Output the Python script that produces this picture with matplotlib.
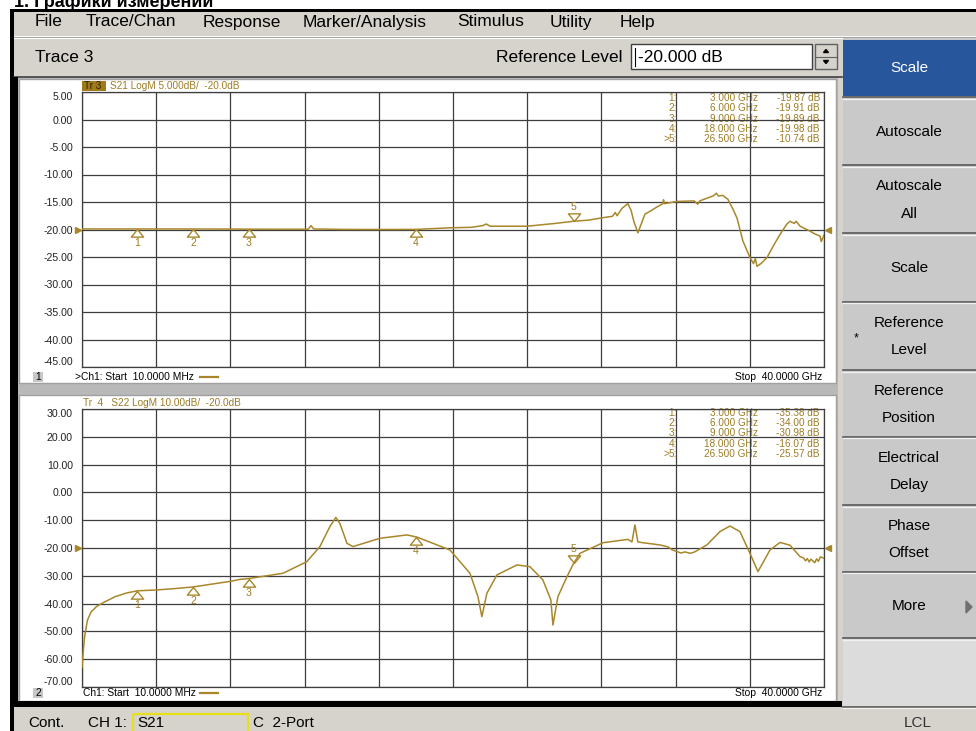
import numpy as np
import matplotlib
matplotlib.use('Agg')
import matplotlib.pyplot as plt
from matplotlib.patches import Rectangle, Polygon
from matplotlib.transforms import blended_transform_factory

plt.rcParams['font.family'] = ['Liberation Sans', 'DejaVu Sans']

# ---------------- data ----------------
s21_freq = [0.01, 2.0, 5.0, 8.0, 10.0, 12.2, 12.35, 12.5, 14.0, 16.0, 18.0, 19.8, 21.0, 21.6, 21.8, 22.0,
            24.0, 25.5, 26.5, 27.3, 28.0, 28.6, 28.75, 28.85, 29.1, 29.43, 29.6, 29.75, 29.97, 30.15,
            30.35, 30.62, 31.0, 31.32, 31.35, 31.4, 32.08, 33.0, 33.2, 33.3, 34.02, 34.2, 34.3, 34.55,
            34.82, 35.05, 35.31, 35.63, 36.01, 36.2, 36.3, 36.39, 36.6, 36.93, 37.3, 37.63, 38.0,
            38.17, 38.4, 38.5, 38.71, 39.25, 39.5, 39.79, 39.85, 40.0]
s21_db = [-19.9, -19.9, -19.9, -19.92, -19.95, -19.95, -19.3, -19.9, -19.98, -20.0, -19.98, -19.7, -19.6,
          -19.3, -19.0, -19.4, -19.4, -18.9, -18.5, -18.3, -17.9, -17.6, -16.9, -17.5, -16.2, -15.3,
          -16.5, -18.5, -20.6, -19.0, -17.2, -16.7, -15.9, -15.3, -14.6, -15.3, -14.9, -14.8, -15.4,
          -14.8, -13.9, -13.4, -13.9, -13.8, -14.5, -16.0, -17.9, -22.1, -25.1, -26.2, -25.3, -26.7,
          -26.2, -25.1, -22.8, -20.9, -19.0, -18.5, -18.9, -18.5, -19.4, -20.3, -20.8, -21.2, -22.2, -21.0]

s22_freq = [0.01, 0.08, 0.15, 0.3, 0.5, 0.8, 1.2, 1.8, 2.4, 3.0, 4.0, 5.0, 6.0, 7.0, 8.0, 8.52, 9.0,
            10.84, 12.13, 12.83, 13.37, 13.69, 13.91, 14.29, 14.61, 16.07, 17.52, 18.06, 19.84, 20.92,
            21.35, 21.56, 21.83, 22.37, 23.45, 24.15, 24.85, 25.28, 25.39, 25.66, 26.15, 26.5, 26.85,
            28.09, 29.43, 29.65, 29.81, 29.97, 30.24, 31.16, 31.6, 31.8, 32.08, 32.3, 32.5, 32.78,
            33.0, 33.69, 34.39, 34.93, 35.47, 36.01, 36.44, 37.09, 37.63, 38.17, 38.71, 38.9, 39.0,
            39.1, 39.2, 39.3, 39.5, 39.6, 39.7, 39.8, 40.0]
s22_db = [-63.0, -57.0, -52.0, -46.0, -43.0, -41.0, -39.5, -37.5, -36.2, -35.4, -35.1, -34.6, -34.0,
          -33.0, -32.0, -31.3, -30.98, -29.1, -24.9, -19.5, -12.3, -9.0, -11.2, -18.3, -19.5, -16.5,
          -15.3, -16.07, -20.7, -29.1, -37.5, -44.7, -36.3, -29.7, -26.1, -26.7, -31.5, -38.7, -47.7,
          -37.5, -30.3, -25.57, -21.9, -18.1, -16.9, -17.8, -11.7, -17.8, -18.1, -18.9, -19.6, -20.6,
          -21.3, -21.8, -21.4, -21.9, -21.5, -18.9, -14.1, -12.1, -14.1, -21.9, -28.5, -20.7, -18.0,
          -19.0, -23.1, -23.6, -24.6, -23.8, -25.0, -24.0, -25.3, -23.9, -24.8, -23.2, -23.7]

marker_freqs = [3.0, 6.0, 9.0, 18.0, 26.5]
marker_labels = ['1', '2', '3', '4', '5']
table_freqs = ['3.000 GHz', '6.000 GHz', '9.000 GHz', '18.000 GHz', '26.500 GHz']
s21_table_vals = ['-19.87 dB', '-19.91 dB', '-19.89 dB', '-19.98 dB', '-10.74 dB']
s22_table_vals = ['-35.38 dB', '-34.00 dB', '-30.98 dB', '-16.07 dB', '-25.57 dB']

s21_yticks = [5, 0, -5, -10, -15, -20, -25, -30, -35, -40, -45]
s22_yticks = [30, 20, 10, 0, -10, -20, -30, -40, -50, -60, -70]
start_ghz, stop_ghz = 0.01, 40.0
ref_level = -20.0

menu_items = ['File', 'Trace/Chan', 'Response', 'Marker/Analysis', 'Stimulus', 'Utility', 'Help']
menu_x = [35, 86, 203, 303, 457, 550, 620]
softkeys = [['Scale'], ['Autoscale'], ['Autoscale', 'All'], ['Scale'], ['Reference', 'Level'],
            ['Reference', 'Position'], ['Electrical', 'Delay'], ['Phase', 'Offset'], ['More'], []]

# ---------------- styles ----------------
W, H = 976, 731
TRACE = '#a8872b'
GOLDTXT = '#9c7c24'
GRID = '#3e3e3e'
UI_BG = '#d6d3cc'
BTN = '#c9c9c9'

fig = plt.figure(figsize=(W / 100, H / 100), dpi=100)
fig.patch.set_facecolor('white')
bg = fig.add_axes([0, 0, 1, 1])
bg.set_xlim(0, W)
bg.set_ylim(H, 0)
bg.axis('off')


def rect(x0, y0, x1, y1, fc, ec='none', lw=0, z=1):
    bg.add_patch(Rectangle((x0, y0), x1 - x0, y1 - y0, facecolor=fc, edgecolor=ec, linewidth=lw, zorder=z))


def txt(x, y, s, size, color='black', ha='left', va='center', z=5, **kw):
    bg.text(x, y, s, fontsize=size, color=color, ha=ha, va=va, zorder=z, **kw)


# title (partly clipped)
txt(14, 7, '1. Графики измерений', 13, va='baseline', fontweight='bold')

# window frame & bars
rect(10, 9, W, 12, 'black', z=2)
rect(10, 9, 14, H, 'black', z=2)
rect(14, 12, W, 36, UI_BG)
bg.plot([14, W], [36.5, 36.5], color='#a0a0a0', lw=0.8, zorder=2)
bg.plot([14, W], [37.5, 37.5], color='white', lw=0.8, zorder=2)
rect(14, 38, 842, 77, UI_BG)
for s, x in zip(menu_items, menu_x):
    txt(x, 22, s, 12.5)

txt(35, 58, 'Trace 3', 12.5)
txt(623, 57, 'Reference Level', 12.5, ha='right')
rect(631, 44, 812, 69, 'white', ec='#404040', lw=1, z=2)
bg.plot([635, 635], [48, 66], color='black', lw=0.8, zorder=3)
txt(638, 57, '-20.000 dB', 12.5)
rect(815, 44, 837, 69, UI_BG, ec='#606060', lw=1, z=2)
bg.plot([815, 837], [56.5, 56.5], color='#606060', lw=0.8, zorder=3)
bg.add_patch(Polygon([(823.5, 52.5), (828.5, 52.5), (826, 49.5)], closed=True, color='black', zorder=4))
bg.add_patch(Polygon([(823.5, 60.5), (828.5, 60.5), (826, 63.5)], closed=True, color='black', zorder=4))
bg.plot([14, 842], [77, 77], color='#404040', lw=1.2, zorder=2)

# panels area
rect(14, 77, 842, 707, '#b9b9b9')
rect(10, 77, 18, 707, 'black', z=2)
rect(19, 79, 836, 383, 'white', ec='#a0a0a0', lw=1, z=2)
rect(19, 395, 836, 701, 'white', ec='#a0a0a0', lw=1, z=2)
rect(10, 701, 842, 707, 'black', z=3)

# right softkey panel
rect(838, 38, W, 707, UI_BG, z=1)
rect(843, 38, W, 707, BTN, z=2)
rect(843, 40, W, 96, '#27569d', z=3)
seps = [97, 165, 233, 301.7, 370, 436.7, 505, 571.7, 638.3, 706.7]
rect(843, 639, W, 706, '#dcdcdc', z=2)
for y in seps:
    bg.plot([843, W], [y, y], color='#5a5a5a', lw=1.2, zorder=4)
    bg.plot([843, W], [y + 1.6, y + 1.6], color='#f2f2f2', lw=0.9, zorder=4)
key_tops = [38] + seps[:-1]
key_bots = [96] + seps[1:]
for i, lines in enumerate(softkeys):
    cy = (key_tops[i] + key_bots[i]) / 2 + 1
    col = 'white' if i == 0 else 'black'
    if len(lines) == 1:
        txt(909, cy, lines[0], 11, color=col, ha='center')
    elif len(lines) == 2:
        txt(909, cy - 13.5, lines[0], 11, color=col, ha='center')
        txt(909, cy + 13.5, lines[1], 11, color=col, ha='center')
txt(856, 338, '*', 9, ha='center')
bg.add_patch(Polygon([(966, 601), (966, 613), (972, 607)], closed=True, color='#707070', zorder=5))

# status bar
rect(14, 707, W, H, UI_BG, z=2)
txt(28, 723, 'Cont.', 11)
txt(88, 723, 'CH 1:', 11)
rect(133, 714, 248, 734, 'none', ec='#e6df1a', lw=1.6, z=4)
txt(137, 723, 'S21', 11)
txt(253, 723, 'C  2-Port', 11)
txt(918, 723, 'LCL', 11, ha='center', color='#333333')


# ---------------- plot axes ----------------
def px_axes(x0, y0, x1, y1):
    return fig.add_axes([x0 / W, 1 - y1 / H, (x1 - x0) / W, (y1 - y0) / H], zorder=5)


up_tri = [(0, 0), (-0.8, -1), (0.8, -1), (0, 0)]
dn_tri = [(0, 0), (-0.8, 1), (0.8, 1), (0, 0)]


def setup(ax, freq, db, yticks, table_vals, y0_pix):
    ax.set_facecolor('none')
    ax.set_xlim(start_ghz, stop_ghz)
    ax.set_ylim(yticks[-1], yticks[0])
    ax.set_xticks(np.linspace(start_ghz, stop_ghz, 11))
    ax.set_yticks(yticks)
    ax.set_yticklabels([f'{v:.2f}' for v in yticks])
    ax.tick_params(length=0, pad=6.5, labelsize=7.6, labelbottom=False, labelcolor='#222222')
    labs = ax.get_yticklabels()
    labs[0].set_va('top')
    labs[-1].set_va('bottom')
    ax.grid(True, color=GRID, lw=0.9)
    for sp in ax.spines.values():
        sp.set_color(GRID)
        sp.set_linewidth(0.9)
    ax.plot(freq, db, color=TRACE, lw=1.1, zorder=3)
    # reference arrows
    tr = blended_transform_factory(ax.transAxes, ax.transData)
    ax.plot([-0.005], [ref_level], marker='>', ms=5, color=TRACE, transform=tr, clip_on=False)
    ax.plot([1.005], [ref_level], marker='<', ms=5, color=TRACE, transform=tr, clip_on=False)
    # markers
    mv = np.interp(marker_freqs, freq, db)
    for i, (f, v, lab) in enumerate(zip(marker_freqs, mv, marker_labels)):
        if i < 4:
            ax.plot([f], [v], marker=up_tri, ms=11, mfc='none', mec=TRACE, mew=1, zorder=4)
            ax.annotate(lab, (f, v), xytext=(0, -6.5), textcoords='offset points', ha='center',
                        va='top', fontsize=7.6, color=GOLDTXT)
        else:
            ax.plot([f], [v], marker=dn_tri, ms=11, mfc='none', mec=TRACE, mew=1, zorder=4)
            ax.annotate(lab, (f, v), xytext=(0, 6.5), textcoords='offset points', ha='center',
                        va='bottom', fontsize=7.6, color=GOLDTXT)
    # marker table
    for i in range(5):
        y = y0_pix + i * 10.4
        if i == 4:
            txt(664, y, '>', 7.2, color=GOLDTXT, z=6)
        txt(677, y, marker_labels[i] + ':', 7.2, color=GOLDTXT, ha='right', z=6)
        txt(758, y, table_freqs[i], 7.2, color=GOLDTXT, ha='right', z=6)
        txt(820, y, table_vals[i], 7.2, color=GOLDTXT, ha='right', z=6)


ax1 = px_axes(82, 92, 824, 367)
setup(ax1, s21_freq, s21_db, s21_yticks, s21_table_vals, 97.7)
ax2 = px_axes(82, 409, 824, 687)
setup(ax2, s22_freq, s22_db, s22_yticks, s22_table_vals, 412.7)

# headers
rect(82, 81, 106, 90.5, '#a07a18', z=3)
txt(84, 85.8, 'Tr 3', 7.2, color='#2e2000')
txt(110, 85.8, 'S21 LogM 5.000dB/  -20.0dB', 7.2, color=GOLDTXT)
txt(83, 403, 'Tr  4   S22 LogM 10.00dB/  -20.0dB', 7.2, color=GOLDTXT)

# footers
for yy, num, start_txt, sx in [(377, '1', '>Ch1: Start  10.0000 MHz', 75), (693, '2', 'Ch1: Start  10.0000 MHz', 83)]:
    rect(33, yy - 5.5, 43, yy + 5, '#c6c6c6', z=3)
    txt(38, yy, num, 7.4, ha='center')
    txt(sx, yy, start_txt, 7.4)
    bg.plot([200, 218], [yy, yy], color=TRACE, lw=1.6, zorder=4)
    txt(822, yy, 'Stop  40.0000 GHz', 7.4, ha='right')

fig.savefig('out.png', dpi=100, facecolor='white')
